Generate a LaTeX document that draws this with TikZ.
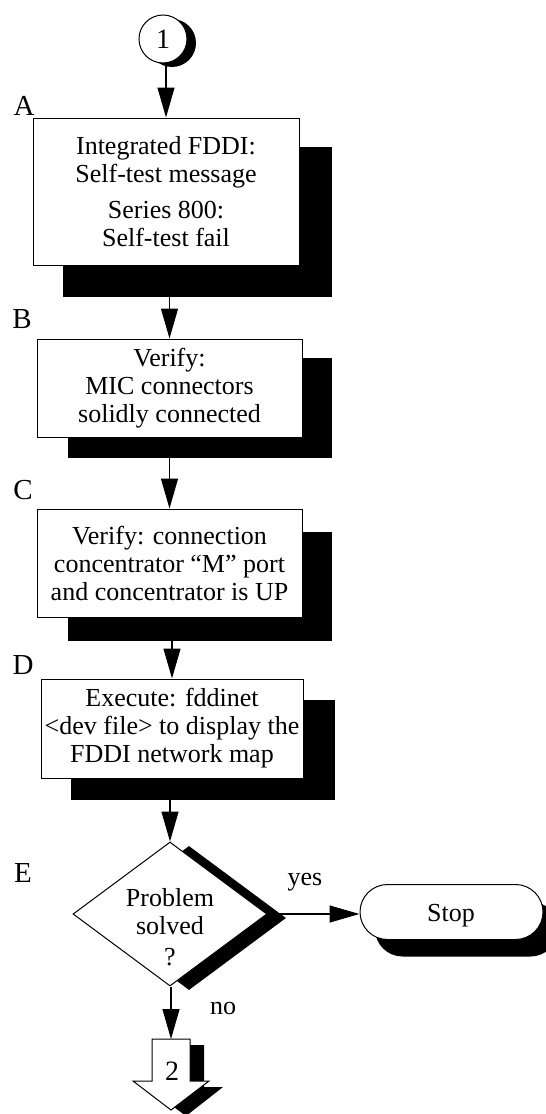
\documentclass[tikz,border=0pt]{standalone}
\usepackage{fontspec}
\setmainfont{Liberation Serif}
\usetikzlibrary{arrows.meta,shapes.geometric,shapes.misc}
\begin{document}
\begin{tikzpicture}[x=1pt,y=-1pt,
  every node/.style={font=\fontsize{26}{28}\selectfont},
  box/.style={draw,fill=white,line width=1pt,align=center,inner sep=0pt},
  shadowbox/.style={fill=black,inner sep=0pt},
  flow/.style={line width=1.2pt,-{Triangle[length=30pt,width=17pt]}},
  lbl/.style={inner sep=0pt,font=\fontsize{29}{30}\selectfont}]
\useasboundingbox (0,0) rectangle (546,1114);

% start connector
\node[circle,fill=black,minimum size=48pt,inner sep=0pt] (s1) at (172,43) {};
\node[circle,draw,fill=white,line width=1pt,minimum size=48pt,inner sep=0pt,font=\fontsize{28}{30}\selectfont] (c1) at (163,39) {1};

% A
\node[lbl] (lA) at (24,106) {A};
\node[shadowbox,minimum width=269pt,minimum height=150pt] (sA) at (197.5,222) {};
\node[box,minimum width=266pt,minimum height=147pt] (A) at (166,191.5)
  {Integrated FDDI:\\Self-test message\\[8pt]Series 800:\\Self-test fail};

% B
\node[lbl] (lB) at (22,319) {B};
\node[shadowbox,minimum width=264pt,minimum height=100pt] (sB) at (200,408) {};
\node[box,minimum width=265pt,minimum height=98pt] (B) at (169.5,388)
  {Verify:\\MIC connectors\\solidly connected};

% C
\node[lbl] (lC) at (23,490) {C};
\node[shadowbox,minimum width=264pt,minimum height=109pt] (sC) at (200,586.5) {};
\node[box,minimum width=265pt,minimum height=108pt] (C) at (169.5,563)
  {Verify: connection\\concentrator “M” port\\and concentrator is UP};

% D
\node[lbl] (lD) at (23,665) {D};
\node[shadowbox,minimum width=264pt,minimum height=100pt] (sD) at (203,750) {};
\node[box,minimum width=262pt,minimum height=99pt] (D) at (172,728.5)
  {Execute: fddinet\\\textless dev file\textgreater{} to display the\\FDDI network map};

% E
\node[lbl] (lE) at (23,873) {E};
\node[diamond,fill=black,minimum width=194pt,minimum height=144pt,inner sep=0pt] (sE) at (189,918) {};
\node[diamond,draw,fill=white,line width=1pt,minimum width=194pt,minimum height=144pt,inner sep=0pt] (E) at (170,914) {};
\node[align=center,inner sep=0pt] (Et) at (170,927) {Problem\\solved\\[3pt]?};

% Stop
\node[rounded rectangle,fill=black,minimum width=183pt,minimum height=55pt,inner sep=0pt] (sStop) at (466.5,929) {};
\node[rounded rectangle,draw,fill=white,line width=1pt,minimum width=183pt,minimum height=55pt,inner sep=0pt] (Stop) at (451.5,912) {};
\node[inner sep=0pt] (Stopt) at (451,916) {Stop};
\node[lbl,font=\fontsize{26}{28}\selectfont] (yes) at (305,882) {yes};

% off-page connector 2
\fill[black] (166,1045) -- (204,1045) -- (204,1087) -- (223,1087) -- (186,1116) -- (147,1087) -- (166,1087) -- cycle;
\draw[fill=white,line width=1pt] (152,1039) -- (190,1039) -- (190,1081) -- (209,1081) -- (171,1110) -- (133,1081) -- (152,1081) -- cycle;
\coordinate (off) at (171,1039);
\node[inner sep=0pt,font=\fontsize{28}{30}\selectfont] (n2) at (172,1071) {2};
\node[lbl,font=\fontsize{26}{28}\selectfont] (no) at (223,1008) {no};

% connectors
\draw[flow] (c1.south -| A.north) -- (A.north);
\draw[flow] (B.north |- sA.south) -- (B.north);
\draw[flow] (C.north |- sB.south) -- (C.north);
\draw[flow] (D.north |- sC.south) -- (D.north);
\draw[flow] (E.north |- sD.south) -- (E.north);
\draw[flow] (E.east) -- (E.east -| Stop.west);
\draw[flow] (E.south -| off) -- (off);
\end{tikzpicture}
\end{document}
